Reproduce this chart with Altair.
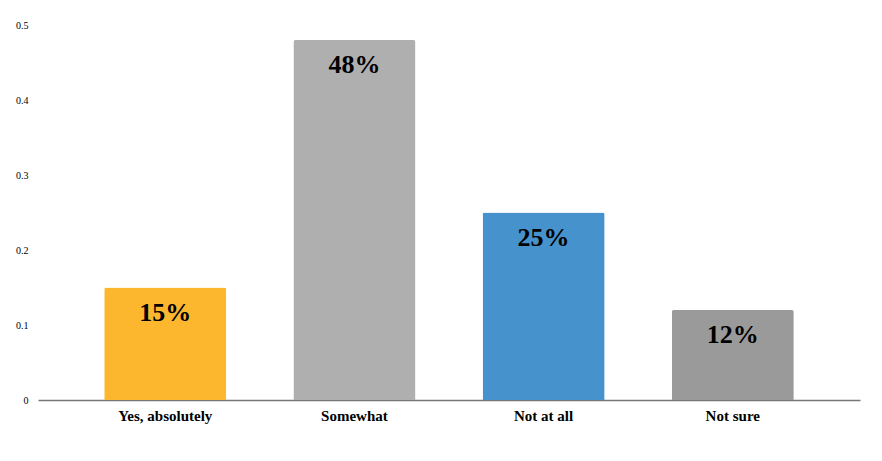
import altair as alt
import pandas as pd

categories = ["Yes, absolutely", "Somewhat", "Not at all", "Not sure"]
values = [0.15, 0.48, 0.25, 0.12]
labels = ["15%", "48%", "25%", "12%"]
colors = ["#FDB72E", "#AFAFAF", "#4692CD", "#9A9A9A"]

SERIF = "Liberation Serif, Times New Roman, serif"

df = pd.DataFrame({"category": categories, "value": values, "label": labels})

x = alt.X("category:N", sort=categories, title=None,
          scale=alt.Scale(paddingInner=0.355, paddingOuter=0.35),
          axis=alt.Axis(labelAngle=0, labelFontSize=15, labelFont=SERIF,
                        labelFontWeight="bold", ticks=False, labelColor="#000",
                        domainColor="#777", domainWidth=1.5, labelPadding=8))
y = alt.Y("value:Q", title=None,
          scale=alt.Scale(domain=[0, 0.5]),
          axis=alt.Axis(values=[0, 0.1, 0.2, 0.3, 0.4, 0.5], format=".1~f",
                        labelFontSize=10, labelFont=SERIF, labelColor="#000",
                        ticks=False, domain=False, grid=False, labelPadding=10))

bars = alt.Chart(df).mark_bar(cornerRadiusTopLeft=2, cornerRadiusTopRight=2).encode(
    x=x, y=y,
    color=alt.Color("category:N", sort=categories,
                    scale=alt.Scale(domain=categories, range=colors), legend=None),
)

text = alt.Chart(df).mark_text(font=SERIF, fontSize=26, fontWeight="bold",
                               color="#000", dy=25, baseline="middle").encode(
    x=alt.X("category:N", sort=categories),
    y=alt.Y("value:Q"),
    text="label:N",
)

chart = (bars + text).properties(
    width=822, height=375,
    autosize=alt.AutoSizeParams(type="none"),
    padding={"left": 30, "top": 17, "right": 10, "bottom": 50},
).configure_view(stroke=None).configure_axis(
    labelFont=SERIF, labelColor="#000"
)

chart.save("out.html", embed_options={"renderer": "svg", "actions": False})
